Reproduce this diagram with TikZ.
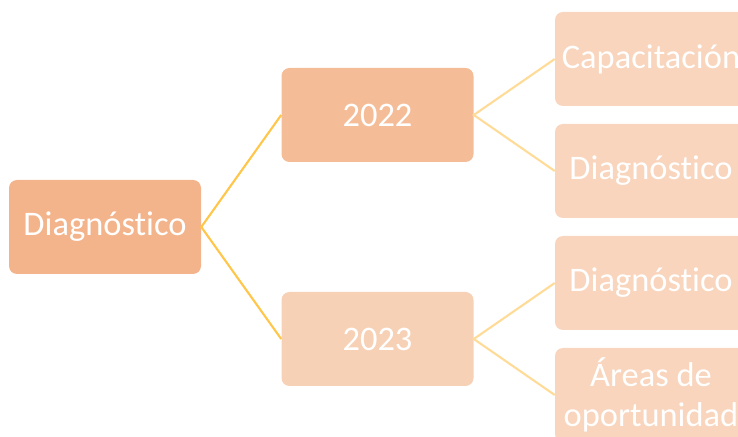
\documentclass[tikz,border=0pt]{standalone}
\usepackage{fontspec}
\setmainfont{Carlito}[Ligatures=NoCommon]
\definecolor{rootfill}{HTML}{F4B48B}
\definecolor{midfill}{HTML}{F5BD97}
\definecolor{lowfill}{HTML}{F7D1B5}
\definecolor{leaffill}{HTML}{F8D5BC}
\definecolor{linedark}{HTML}{FFC64A}
\definecolor{linelight}{HTML}{FFDB98}

\begin{document}
\begin{tikzpicture}[
    box/.style={rounded corners=0.2cm, minimum width=4.8cm, minimum height=2.35cm,
        inner sep=0pt, text=white, align=center,
        font=\fontsize{24.5}{29}\selectfont},
    link/.style={line width=1.5pt}
]
            \useasboundingbox (0,0) rectangle (18.45,-10.925);
            \node[box, fill=rootfill] (root) at (2.625,-5.675) {Diagnóstico};
            \node[box, fill=midfill] (y2022) at (9.4375,-2.875) {2022};
            \node[box, fill=lowfill] (y2023) at (9.4375,-8.475) {2023};
            \node[box, fill=leaffill] (capac) at (16.275,-1.475) {Capacitación};
            \node[box, fill=leaffill] (diagA) at (16.275,-4.275) {Diagnóstico};
            \node[box, fill=leaffill] (diagB) at (16.275,-7.075) {Diagnóstico};
            \node[box, fill=leaffill] (areas) at (16.275,-9.875) {Áreas de\\oportunidad};
            \draw[link, linedark] (y2022.west) -- (root.east) -- (y2023.west);
            \draw[link, linelight] (capac.west) -- (y2022.east) -- (diagA.west);
            \draw[link, linelight] (diagB.west) -- (y2023.east) -- (areas.west);
        \end{tikzpicture}
\end{document}
